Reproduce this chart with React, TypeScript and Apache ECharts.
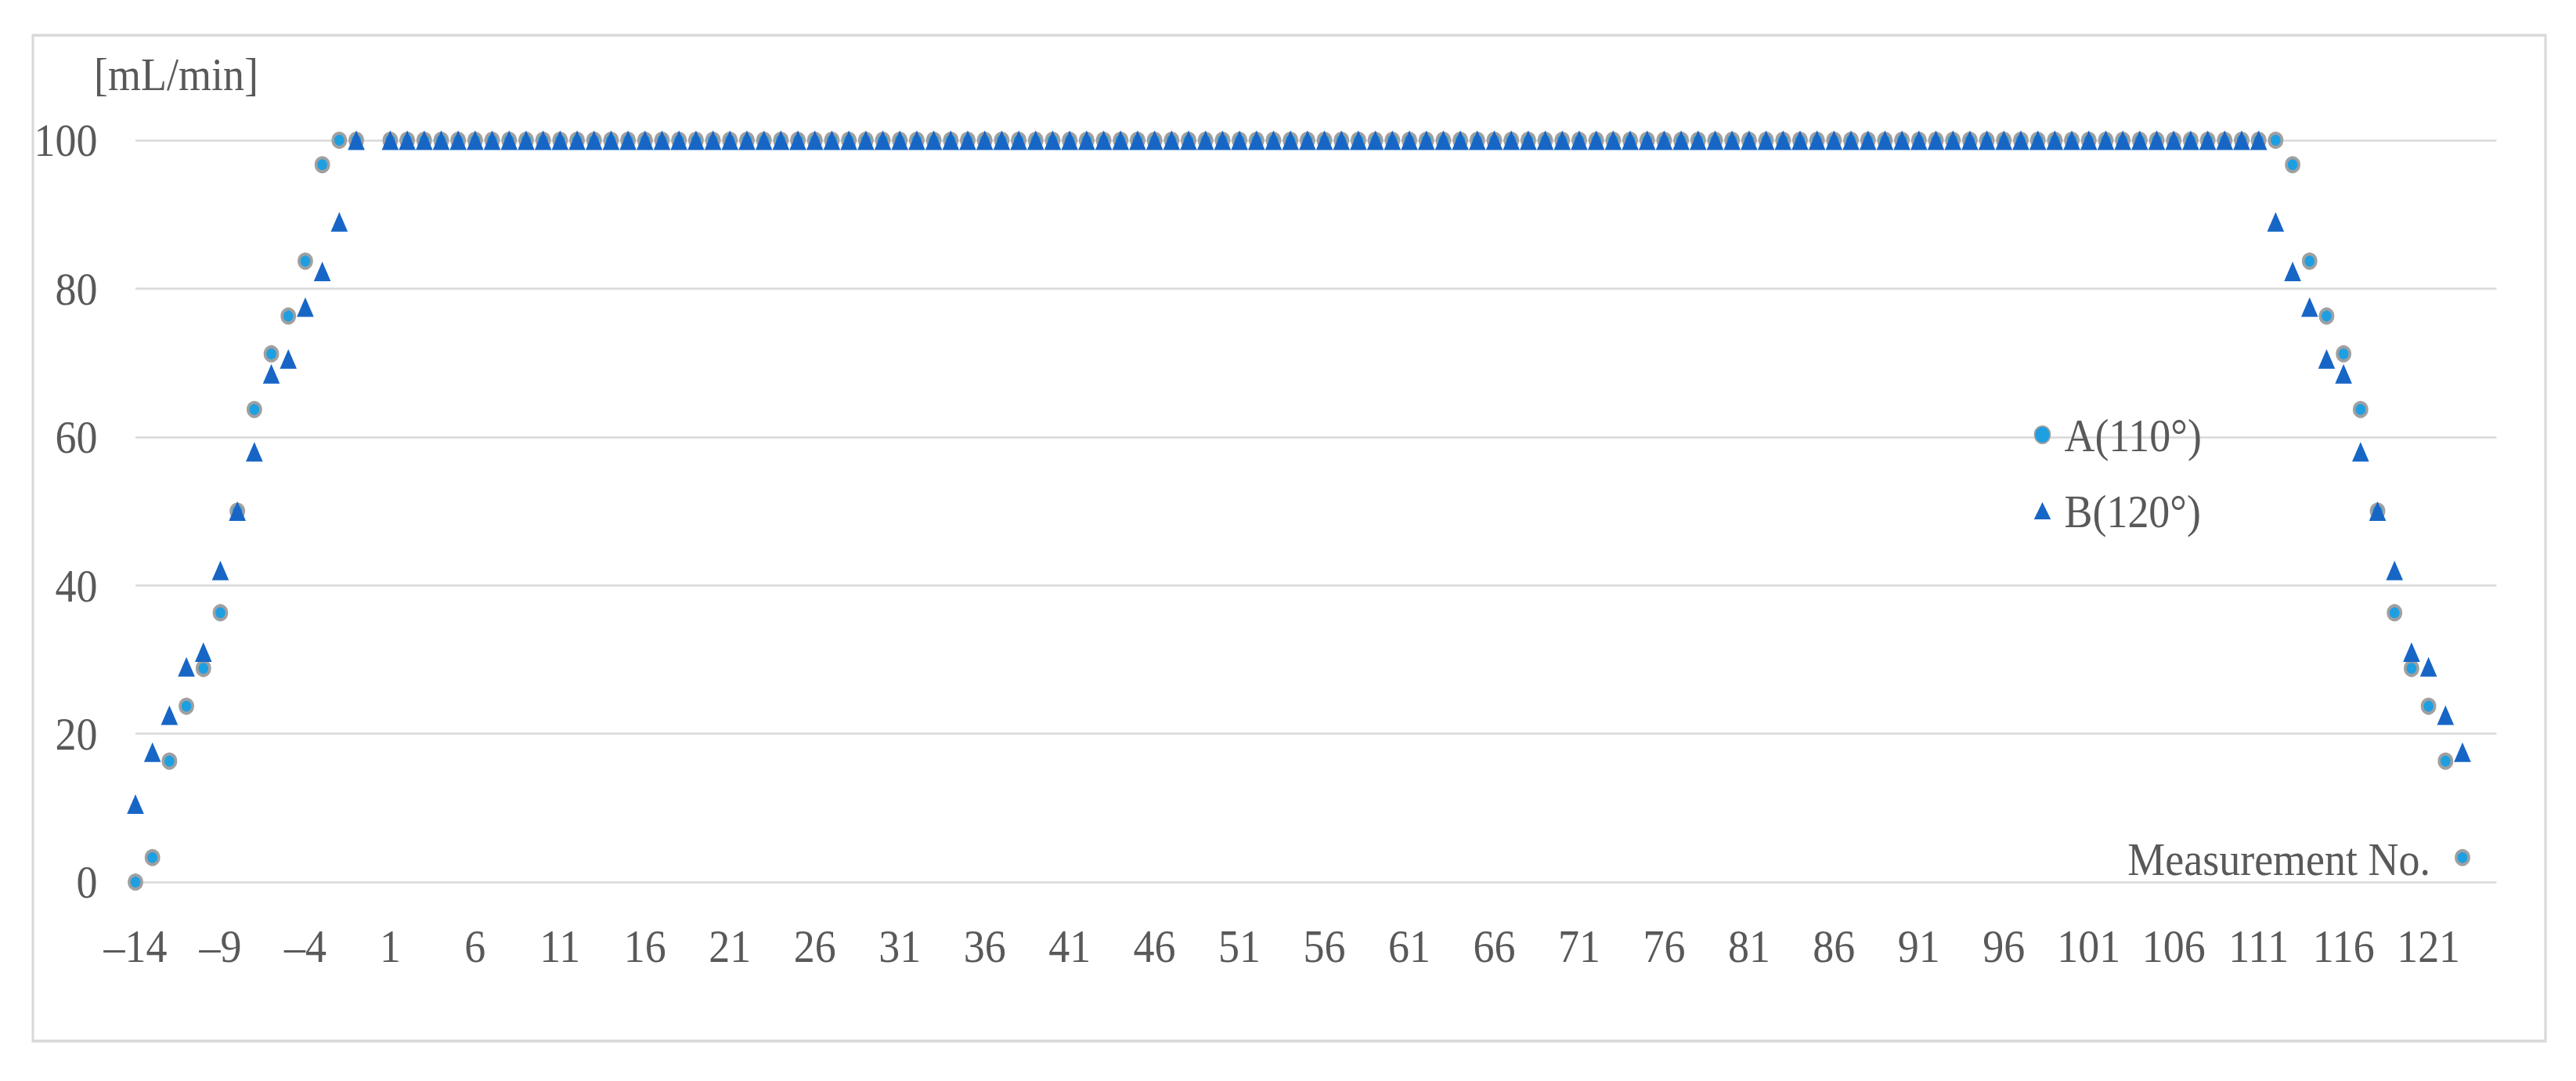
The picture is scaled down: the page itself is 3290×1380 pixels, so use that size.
import React, { useEffect, useRef } from "react";
import * as echarts from "echarts";

// The reference is slightly compressed horizontally; draw wider and squeeze with CSS.
const X_SCALE = 0.9;
const PAGE_W = 3290;
const PAGE_H = 1380;
const CHART_W = PAGE_W / X_SCALE;
const FONT = "'Liberation Serif', 'Times New Roman', serif";
const TEXT_COLOR = "#595959";

// Axis categories: measurement numbers shown on the x axis
const axisFirstNo = -14;
const axisLastNo = 125;
const measurementNos: number[] = [];
for (let n = axisFirstNo; n <= axisLastNo; n++) measurementNos.push(n);

// Flow rate [mL/min] per measurement no. (index 0 = -14). null = no measurement
const flowA: (number | null)[] = [
  0, 3.3, 16.3, 23.7, 28.8, 36.3, 50, 63.7, 71.2, 76.3, // -14..-5
  83.7, 96.7, 100, 100, null, 100, 100, 100, 100, 100, // -4..5
  100, 100, 100, 100, 100, 100, 100, 100, 100, 100, // 6..15
  100, 100, 100, 100, 100, 100, 100, 100, 100, 100, // 16..25
  100, 100, 100, 100, 100, 100, 100, 100, 100, 100, // 26..35
  100, 100, 100, 100, 100, 100, 100, 100, 100, 100, // 36..45
  100, 100, 100, 100, 100, 100, 100, 100, 100, 100, // 46..55
  100, 100, 100, 100, 100, 100, 100, 100, 100, 100, // 56..65
  100, 100, 100, 100, 100, 100, 100, 100, 100, 100, // 66..75
  100, 100, 100, 100, 100, 100, 100, 100, 100, 100, // 76..85
  100, 100, 100, 100, 100, 100, 100, 100, 100, 100, // 86..95
  100, 100, 100, 100, 100, 100, 100, 100, 100, 100, // 96..105
  100, 100, 100, 100, 100, 100, 100, 96.7, 83.7, 76.3, // 106..115
  71.2, 63.7, 50, 36.3, 28.8, 23.7, 16.3, 3.3, null, null, // 116..125
];

const flowB: (number | null)[] = [
  10.5, 17.5, 22.5, 29, 31, 42, 50, 58, 68.5, 70.5, // -14..-5
  77.5, 82.3, 89, 100, null, 100, 100, 100, 100, 100, // -4..5
  100, 100, 100, 100, 100, 100, 100, 100, 100, 100, // 6..15
  100, 100, 100, 100, 100, 100, 100, 100, 100, 100, // 16..25
  100, 100, 100, 100, 100, 100, 100, 100, 100, 100, // 26..35
  100, 100, 100, 100, 100, 100, 100, 100, 100, 100, // 36..45
  100, 100, 100, 100, 100, 100, 100, 100, 100, 100, // 46..55
  100, 100, 100, 100, 100, 100, 100, 100, 100, 100, // 56..65
  100, 100, 100, 100, 100, 100, 100, 100, 100, 100, // 66..75
  100, 100, 100, 100, 100, 100, 100, 100, 100, 100, // 76..85
  100, 100, 100, 100, 100, 100, 100, 100, 100, 100, // 86..95
  100, 100, 100, 100, 100, 100, 100, 100, 100, 100, // 96..105
  100, 100, 100, 100, 100, 100, 89, 82.3, 77.5, 70.5, // 106..115
  68.5, 58, 50, 42, 31, 29, 22.5, 17.5, null, null, // 116..125
];

const seriesNames = ["A(110°)", "B(120°)"];
const yUnitLabel = "[mL/min]";
const xAxisTitle = "Measurement No.";
const yMin = 0;
const yMax = 100;
const yInterval = 20;
const xLabelStep = 5;

// convert a screen x (after squeeze) to chart x
const px = (x: number) => x / X_SCALE;

function toPairs(values: (number | null)[]) {
  const out: [number, number][] = [];
  values.forEach((v, i) => {
    if (v !== null) out.push([i, v]);
  });
  return out;
}

export default function App() {
  const ref = useRef<HTMLDivElement>(null);

  useEffect(() => {
    if (!ref.current) return;
    const chart = echarts.init(ref.current, null, { renderer: "svg" });

    const circleColor = "#1e9fe2";
    const circleBorder = "#a0a0a0";
    const triangleColor = "#1766c6";

    const option: any = {
      animation: false,
      backgroundColor: "#ffffff",
      textStyle: { fontFamily: FONT },
      grid: {
        left: px(173),
        right: CHART_W - px(3188),
        top: 179,
        bottom: PAGE_H - 1126,
        containLabel: false,
      },
      xAxis: {
        type: "category",
        data: measurementNos.map(String),
        boundaryGap: false,
        axisLine: { show: false },
        axisTick: { show: false },
        splitLine: { show: false },
        axisLabel: {
          interval: xLabelStep - 1,
          margin: 51,
          fontSize: 60,
          lineHeight: 60,
          color: TEXT_COLOR,
          fontFamily: FONT,
          formatter: (v: string) => v.replace("-", "\u2013"),
        },
      },
      yAxis: {
        type: "value",
        min: yMin,
        max: yMax,
        interval: yInterval,
        axisLine: { show: false },
        axisTick: { show: false },
        splitLine: { lineStyle: { color: "#d9d9d9", width: 2.5 } },
        axisLabel: {
          margin: 54,
          fontSize: 60,
          lineHeight: 60,
          color: TEXT_COLOR,
          fontFamily: FONT,
        },
      },
      legend: {
        orient: "vertical",
        left: px(2604) - 12,
        top: 520,
        itemWidth: 24,
        itemHeight: 22,
        itemGap: 37,
        textStyle: {
          fontSize: 60,
          lineHeight: 60,
          color: TEXT_COLOR,
          fontFamily: FONT,
          rich: { g: { width: 14 } },
        },
        formatter: (name: string) => "{g|}" + name,
        data: [
          {
            name: seriesNames[0],
            icon: "circle",
            itemStyle: { color: circleColor, borderColor: circleBorder, borderWidth: 2 },
          },
          { name: seriesNames[1], icon: "triangle" },
        ],
      },
      series: [
        {
          name: seriesNames[0],
          type: "scatter",
          symbol: "circle",
          symbolSize: 18,
          itemStyle: { color: circleColor, borderColor: circleBorder, borderWidth: 4, opacity: 1 },
          data: toPairs(flowA),
          z: 2,
        },
        {
          name: seriesNames[1],
          type: "scatter",
          symbol: "triangle",
          symbolSize: [24, 25],
          itemStyle: { color: triangleColor, opacity: 1 },
          data: toPairs(flowB),
          z: 3,
        },
      ],
      graphic: [
        {
          type: "rect",
          silent: true,
          z: -10,
          shape: { x: px(42), y: 45, width: px(3251) - px(42), height: 1329 - 45 },
          style: { fill: "none", stroke: "#d9d9d9", lineWidth: 3.5 },
        },
        {
          type: "text",
          silent: true,
          x: px(120),
          y: 95,
          style: {
            text: yUnitLabel,
            fontSize: 60,
            fontFamily: FONT,
            fill: TEXT_COLOR,
            align: "left",
            verticalAlign: "middle",
          },
        },
        {
          type: "text",
          silent: true,
          x: px(3104),
          y: 1097,
          style: {
            text: xAxisTitle,
            fontSize: 60,
            fontFamily: FONT,
            fill: TEXT_COLOR,
            align: "right",
            verticalAlign: "middle",
          },
        },
      ],
    };

    chart.setOption(option);
    return () => chart.dispose();
  }, []);

  return (
    <div
      ref={ref}
      style={{
        position: "fixed",
        left: 0,
        top: 0,
        width: CHART_W,
        height: PAGE_H,
        transform: `scaleX(${X_SCALE})`,
        transformOrigin: "0 0",
      }}
    />
  );
}
